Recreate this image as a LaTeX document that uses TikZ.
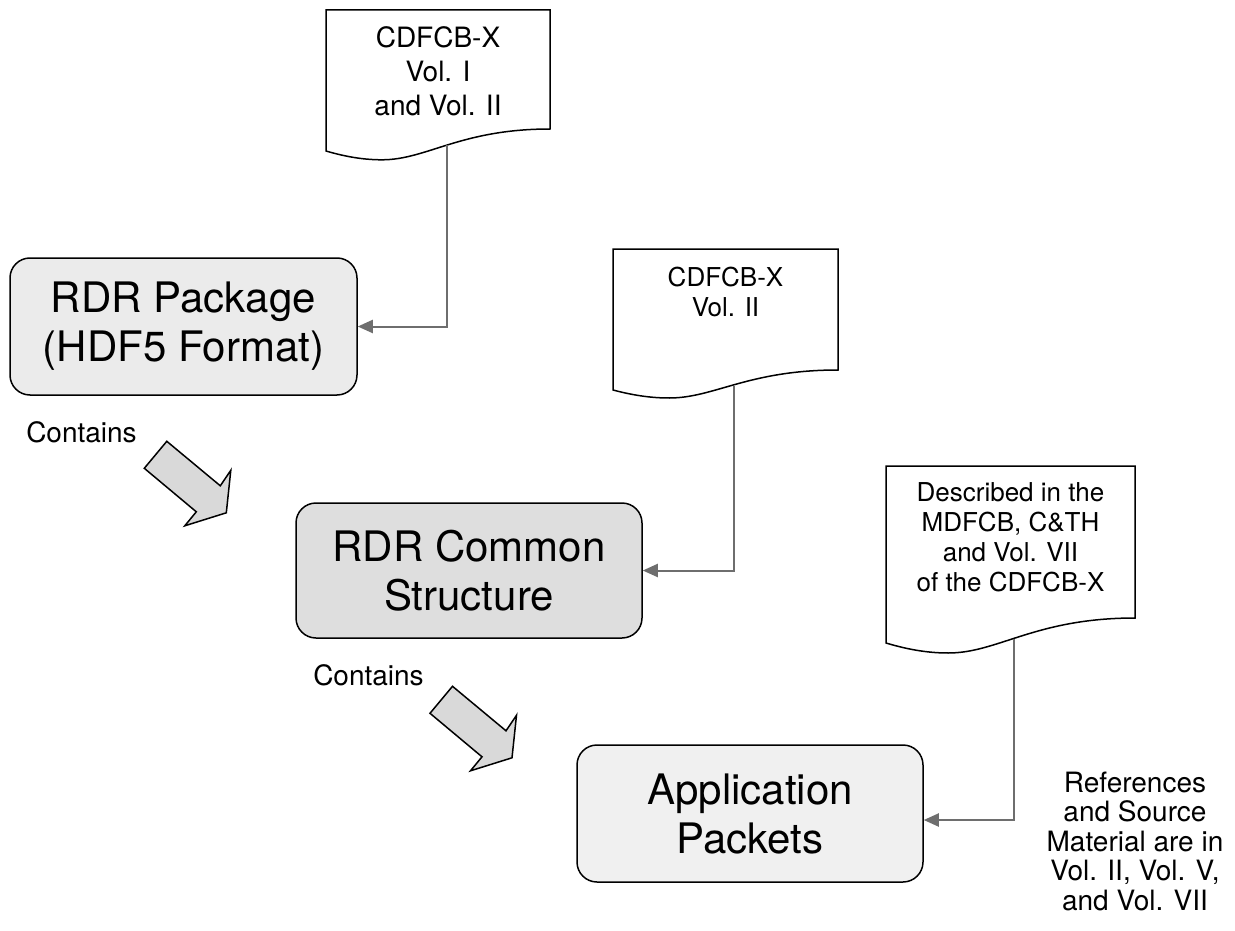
\documentclass[tikz,border=0pt]{standalone}
\usepackage{fontspec}
\setmainfont{TeX Gyre Heros}
\usetikzlibrary{arrows.meta}
\definecolor{arrowgray}{HTML}{D9D9D9}
\definecolor{conngray}{HTML}{6E6E6E}
\definecolor{fillA}{HTML}{EBEBEB}
\definecolor{fillB}{HTML}{DEDEDE}
\definecolor{fillC}{HTML}{F0F0F0}
\begin{document}
\begin{tikzpicture}[x=1pt,y=-1pt,
  box/.style={draw=black, line width=1.5pt, rounded corners=20pt, align=center,
    font=\fontsize{42}{49}\selectfont, inner sep=0pt},
  doctext/.style={align=center, inner sep=0pt},
  docline/.style={draw=black, line width=1.5pt, line join=miter},
  conn/.style={draw=conngray, line width=2pt, -{Triangle[length=15pt,width=13pt]}},
  bigarrow/.style={draw=black, line width=1.5pt, fill=arrowgray, line join=miter},
  lbl/.style={inner sep=0pt, font=\fontsize{28}{30}\selectfont}]
\useasboundingbox (0,0) rectangle (1235,931);

% boxes
\node[box, fill=fillA, minimum width=347pt, minimum height=137pt] (box1) at (183.5,326.5) {RDR Package\\(HDF5 Format)};
\node[box, fill=fillB, minimum width=346pt, minimum height=135pt] (box2) at (469,570.5) {RDR Common\\Structure};
\node[box, fill=fillC, minimum width=346pt, minimum height=137pt] (box3) at (750,813.5) {Application\\Packets};

% document 1
\draw[docline] (326,151) -- (326,10) -- (550,10) -- (550,129)
  .. controls (460.4,129) and (426.8,159.8) .. (382,159.8)
  .. controls (366.3,159.8) and (348.4,157.6) .. cycle;
\node[doctext, font=\fontsize{28}{34}\selectfont] (doc1) at (438,71) {CDFCB-X\\Vol. I\\and Vol. II};
\coordinate (c1) at (447,145);

% document 2
\draw[docline] (613,390) -- (613,249) -- (838,249) -- (838,370)
  .. controls (748,370) and (714.25,398) .. (669.25,398)
  .. controls (653.5,398) and (635.5,396) .. cycle;
\node[doctext, font=\fontsize{26}{30}\selectfont] (doc2) at (725.5,292) {CDFCB-X\\Vol. II};
\coordinate (c2) at (734,386);

% document 3
\draw[docline] (886,643) -- (886,466) -- (1135,466) -- (1135,618)
  .. controls (1035.4,618) and (998.05,653) .. (948.25,653)
  .. controls (930.8,653) and (910.9,650.5) .. cycle;
\node[doctext, font=\fontsize{26}{30}\selectfont] (doc3) at (1010.5,537.5) {Described in the\\MDFCB, C\&TH\\and Vol. VII\\of the CDFCB-X};
\coordinate (c3) at (1014,639);

% connectors
\draw[conn] (c1) |- (box1.east);
\draw[conn] (c2) |- (box2.east);
\draw[conn] (c3) |- ([yshift=-6.5pt]box3.east);

% block arrows
\draw[bigarrow, shift={(144.3,468.3)}] (0,0) -- (22.5,-27) -- (76,17.5) -- (86.5,2) -- (82,44.5) -- (40.5,57.5) -- (52,43.5) -- cycle;
\draw[bigarrow, shift={(430,713.3)}] (0,0) -- (22.5,-27) -- (76,17.5) -- (86.5,2) -- (82,44.5) -- (40.5,57.5) -- (52,43.5) -- cycle;

% labels
\node[lbl] (contains1) at (81.5,432) {Contains};
\node[lbl] (contains2) at (368.5,675) {Contains};
\node[doctext, font=\fontsize{28}{29.5}\selectfont] (refs) at (1135,841) {References\\and Source\\Material are in\\Vol. II, Vol. V,\\and Vol. VII};
\end{tikzpicture}
\end{document}
